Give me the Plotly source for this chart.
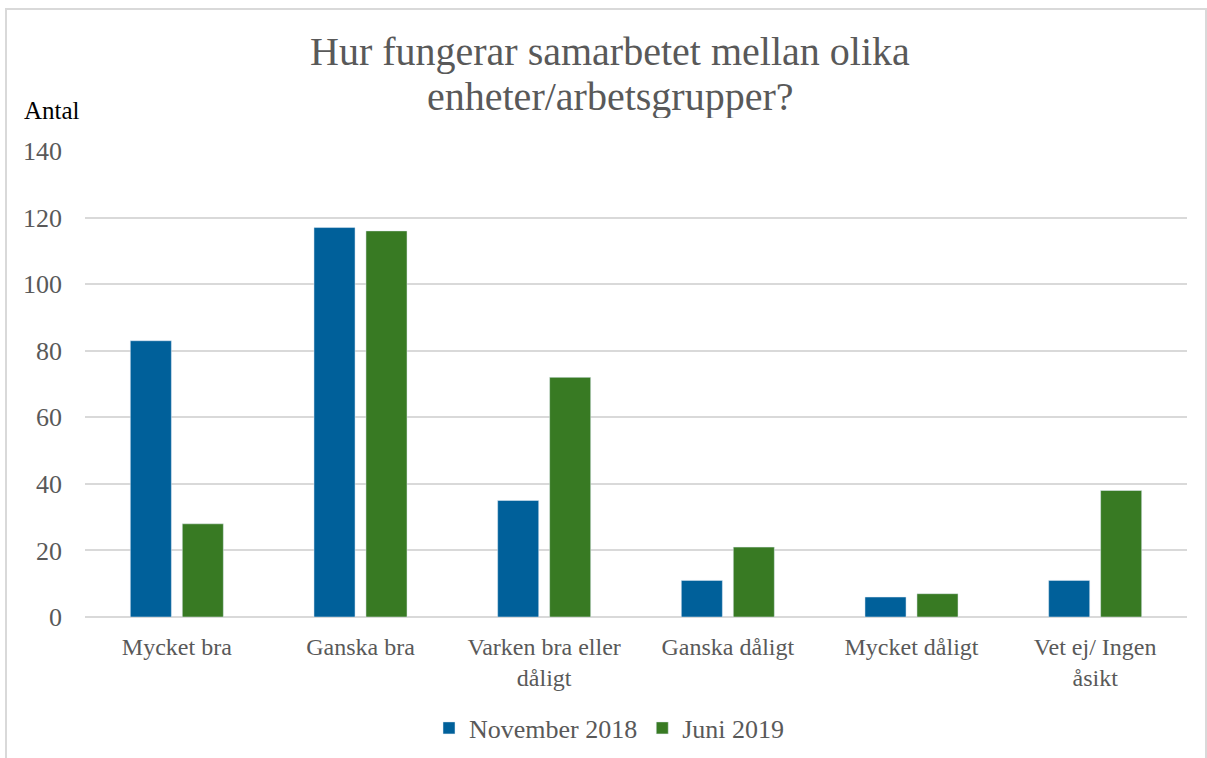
import plotly.graph_objects as go

categories = ["Mycket bra", "Ganska bra", "Varken bra eller<br>dåligt", "Ganska dåligt",
              "Mycket dåligt", "Vet ej/ Ingen<br>åsikt"]
nov_2018 = [83, 117, 35, 11, 6, 11]
jun_2019 = [28, 116, 72, 21, 7, 38]
y_ticks = [0, 20, 40, 60, 80, 100, 120, 140]
title_lines = ["Hur fungerar samarbetet mellan olika", "enheter/arbetsgrupper?"]

FONT = "Liberation Serif"
GRAY = "#595959"

fig = go.Figure()
fig.add_trace(go.Bar(name="November 2018", x=categories, y=nov_2018, marker_color="#00609A"))
fig.add_trace(go.Bar(name="Juni 2019", x=categories, y=jun_2019, marker_color="#387A23"))

W, H = 1207, 758
L, R, T, B = 85, 20, 151, 141
pw, ph = W - L - R, H - T - B

def px_x(p):
    return (p - L) / pw

def px_y(p):
    return (H - B - p) / ph

annotations = [dict(text="Antal", xref="paper", yref="paper", x=px_x(22), xanchor="left",
                    y=px_y(110), yanchor="middle", showarrow=False,
                    font=dict(family=FONT, size=25, color="black"))]
for line, yc, hh in zip(title_lines, [51, 96], [46, 44]):
    annotations.append(dict(text=line, xref="paper", yref="paper", x=px_x(610), xanchor="center",
                            y=px_y(yc), yanchor="middle", showarrow=False, height=hh,
                            valign="middle", borderpad=0,
                            font=dict(family=FONT, size=40, color=GRAY)))

fig.update_layout(
    width=W, height=H,
    margin=dict(l=L, r=R, t=T, b=B, autoexpand=False),
    paper_bgcolor="white", plot_bgcolor="white",
    barmode="group", bargap=0.434, bargroupgap=0.21,
    font=dict(family=FONT, size=24, color=GRAY),
    showlegend=True,
    legend=dict(orientation="h", x=px_x(429), xanchor="left", y=px_y(728), yanchor="middle",
                font=dict(family=FONT, size=26, color=GRAY), traceorder="normal",
                itemwidth=30, tracegroupgap=0),
    xaxis=dict(showgrid=False, showline=False, ticks="", tickfont=dict(size=24, color=GRAY),
               ticklabelstandoff=13),
    yaxis=dict(range=[0, 140], tickvals=y_ticks, showgrid=True, gridcolor="#D9D9D9", gridwidth=1.5,
               zeroline=True, zerolinecolor="#D9D9D9", zerolinewidth=2, showline=False,
               ticks="", tickfont=dict(size=26, color=GRAY), ticklabelstandoff=22),
    shapes=[dict(type="rect", xref="paper", yref="paper",
                 x0=px_x(6), x1=px_x(1206), y0=px_y(800), y1=px_y(9),
                 line=dict(color="#D9D9D9", width=2), fillcolor="rgba(0,0,0,0)", layer="below")],
    annotations=annotations,
)

fig.write_html("out.html", config={"displayModeBar": False},
               post_script="document.body.style.margin='0';document.body.style.overflow='hidden';")
